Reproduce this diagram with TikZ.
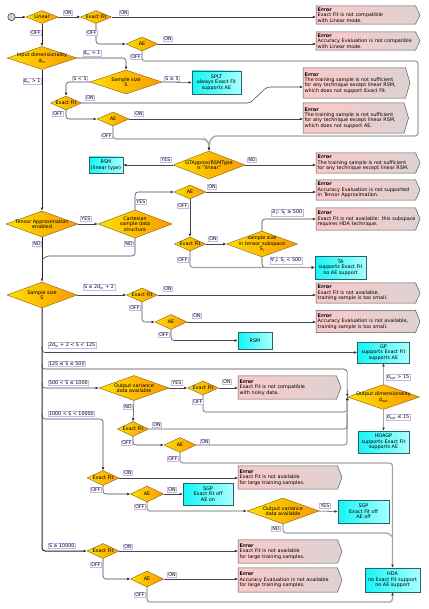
\documentclass[tikz,border=0pt]{standalone}
\usepackage{fontspec}
\setmainfont{DejaVu Sans}
\usetikzlibrary{shapes.geometric,arrows.meta,calc,backgrounds}

\definecolor{lncol}{RGB}{70,70,70}
\definecolor{glncol}{RGB}{165,165,165}
\definecolor{diaedge}{RGB}{130,95,20}
\definecolor{diaL}{RGB}{255,222,0}
\definecolor{diaR}{RGB}{250,155,0}
\definecolor{cyL}{RGB}{20,245,245}
\definecolor{cyR}{RGB}{170,255,255}
\definecolor{cyedge}{RGB}{40,100,110}
\definecolor{erL}{RGB}{250,200,200}
\definecolor{erR}{RGB}{222,210,210}
\definecolor{eredge}{RGB}{90,90,90}
\definecolor{lbedge}{RGB}{200,180,240}
\definecolor{startc}{RGB}{200,210,230}

\tikzset{
 dia/.style={diamond, draw=diaedge, line width=0.4pt, left color=diaL, right color=diaR, inner sep=0pt},
 dtxt/.style={font=\fontsize{4.9}{5.4}\selectfont, align=center, inner sep=0pt},
 cbox/.style={rectangle, draw=cyedge, line width=0.5pt, left color=cyL, right color=cyR, font=\fontsize{4.9}{5.4}\selectfont, align=center, inner sep=0pt},
 etxt/.style={rectangle, anchor=west, inner xsep=1.5pt, inner ysep=0pt, font=\fontsize{4.9}{5.4}\selectfont, align=left, text width=110pt},
 eshape/.style={draw=eredge, line width=0.5pt, left color=erL, right color=erR},
 lab/.style={rectangle, draw=lbedge, fill=white, line width=0.5pt, font=\fontsize{4.8}{5.4}\selectfont, inner xsep=0.8pt, inner ysep=0.7pt},
 ln/.style={draw=lncol, line width=0.55pt, rounded corners=3pt},
 gln/.style={draw=glncol, line width=1.3pt, rounded corners=3pt},
 trunk/.style={draw=black!85, line width=1pt, rounded corners=3pt},
 arr/.style={-{Latex[length=3.2pt,width=2.8pt,color=black!80]}},
}

\newcommand\DiaN[6]{%
 \node[dia,minimum width=#4pt,minimum height=#5pt] (#1) at (#2,#3) {};
 \node[dtxt] (#1t) at (#1) {#6};}

\newcommand\ErrN[6]{%
 \node[etxt, minimum height=#5pt] (#1) at (#2,#3) {\textbf{Error}\\#6};
 \begin{scope}[on background layer]
 \shade[eshape] (#1.north west) -- ($(#1.north west)+(#4,0)$) -- ($(#1.west)+(#4+4.5,0)$) -- ($(#1.south west)+(#4,0)$) -- (#1.south west) -- cycle;
 \end{scope}}

\begin{document}
\begin{tikzpicture}[x=1pt,y=-1pt]
\begin{scope}[on background layer]
\fill[white] (0,0) rectangle (428,609);
\end{scope}
\useasboundingbox (0,0) rectangle (428,609);

% start
\node[circle, draw=black!80, fill=startc, minimum size=7.4pt, inner sep=0pt, line width=0.5pt] (start) at (11.5,17) {};

% diamonds
\DiaN{lin}{42}{17}{32}{13}{Linear}
\DiaN{ef1}{96}{17}{31}{13}{Exact Fit}
\DiaN{ae1}{142}{44}{32}{14}{AE}
\DiaN{indim}{42}{58}{70}{23}{Input dimensionality\\d\textsubscript{in}}
\DiaN{ss1}{126}{82}{72}{24}{Sample size\\S}
\DiaN{ef2}{66}{103}{31}{14}{Exact Fit}
\DiaN{ae2}{113}{119}{32}{14}{AE}
\DiaN{gt}{209}{165}{72}{28}{GTApprox/RSMType\\is "linear"}
\DiaN{ae3}{190}{192}{32}{14}{AE}
\DiaN{tensor}{42}{224}{72}{26}{Tensor Approximation\\enabled}
\DiaN{cart}{135}{224}{74}{28}{Cartesian\\sample data\\structure}
\DiaN{ef3}{190}{244}{31}{14}{Exact Fit}
\DiaN{sub}{262}{244}{71}{26}{sample size\\in tensor subspace\\S\textsubscript{j}}
\DiaN{ss2}{42}{295}{70}{26}{Sample size\\S}
\DiaN{ef4}{142}{295}{31}{14}{Exact Fit}
\DiaN{ae4}{171}{322}{32}{15}{AE}
\DiaN{ov1}{134}{388}{70}{25}{Output variance\\data available}
\DiaN{ef5}{203}{388}{31}{14}{Exact Fit}
\DiaN{od}{383.5}{397}{72}{25}{Output dimensionality\\d\textsubscript{out}}
\DiaN{ef6}{133}{429}{31}{15}{Exact Fit}
\DiaN{ae5}{180}{445}{32}{15}{AE}
\DiaN{ef7}{103}{478}{32}{15}{Exact Fit}
\DiaN{ae6}{147}{494}{33}{16}{AE}
\DiaN{ov2}{283}{511}{72}{26}{Output variance\\data available}
\DiaN{ef8}{103}{551}{32}{15}{Exact Fit}
\DiaN{ae7}{147}{579}{33}{16}{AE}

% technique boxes
\node[cbox, minimum width=49pt, minimum height=23pt] (splt) at (216.5,82.5) {SPLT\\always Exact Fit\\supports AE};
\node[cbox, minimum width=34pt, minimum height=16pt] (rsml) at (106,165) {RSM\\(linear type)};
\node[cbox, minimum width=51pt, minimum height=23pt] (ta) at (340.5,267.5) {TA\\supports Exact Fit\\no AE support};
\node[cbox, minimum width=34pt, minimum height=17pt] (rsm) at (255,340.5) {RSM};
\node[cbox, minimum width=52pt, minimum height=21pt] (gp) at (383.5,352.5) {GP\\supports Exact Fit\\supports AE};
\node[cbox, minimum width=51pt, minimum height=22pt] (hdagp) at (383.5,442) {HDAGP\\supports Exact Fit\\supports AE};
\node[cbox, minimum width=50pt, minimum height=22pt] (sgp1) at (208,494) {SGP\\Exact Fit off\\AE on};
\node[cbox, minimum width=51pt, minimum height=23pt] (sgp2) at (363.5,511.5) {SGP\\Exact Fit off\\AE off};
\node[cbox, minimum width=55pt, minimum height=24pt] (hda) at (392.5,580) {HDA\\no Exact Fit support\\no AE support};

% error boxes
\ErrN{e1}{316}{15}{99.5}{18}{Exact Fit is not compatible\\with Linear mode.}
\ErrN{e2}{316}{41}{99.5}{18}{Accuracy Evaluation is not compatible\\with Linear mode.}
\ErrN{e3}{303}{83}{102.5}{30}{The training sample is not sufficient\\for any technique except linear RSM,\\which does not support Exact Fit.}
\ErrN{e4}{303}{118}{101}{30}{The training sample is not sufficient\\for any technique except linear RSM,\\which does not support AE.}
\ErrN{e5}{316}{163}{99.5}{20}{The training sample is not sufficient\\for any technique except linear RSM.}
\ErrN{e6}{316}{190}{99.5}{20}{Accuracy Evaluation is not supported\\in Tensor Approximation.}
\ErrN{e7}{316}{219}{99.5}{22}{Exact Fit is not available: this subspace\\requires HDA technique.}
\ErrN{e8}{316}{293}{99.5}{20}{Exact Fit is not available,\\training sample is too small.}
\ErrN{e9}{316}{321.5}{99.5}{22}{Accuracy Evaluation is not available,\\training sample is too small.}
\ErrN{e10}{238}{387.5}{98.5}{23}{Exact Fit is not compatible\\with noisy data.}
\ErrN{e11}{238}{477.5}{99.5}{23}{Exact Fit is not available\\for large training samples.}
\ErrN{e12}{238}{551.5}{99.5}{23}{Exact Fit is not available\\for large training samples.}
\ErrN{e13}{238}{580}{99.5}{24}{Accuracy Evaluation is not available\\for large training samples.}

% helper coordinates
\coordinate (k3) at (267,87);
\coordinate (b1) at (42,347);
\coordinate (b2) at (42,364);
\coordinate (b3) at (42,383);
\coordinate (b4) at (42,414);

% connectors
\draw[ln,arr] (start.east) -- (lin.west);
\draw[ln,arr] (lin.east) -- (ef1.west);
\draw[trunk,arr] (lin.south) -- (indim.north);
\draw[ln,arr] (ef1.east) -- (e1.west |- ef1.east);
\draw[ln,arr] (ef1.south) |- (ae1.west);
\draw[ln,arr] (ae1.east) -- (e2.west |- ae1.east);
\draw[gln,arr] (ae1.south) -- (142,61) -- (418,61) -- (418,136) -- (213,136) -- (209,143) -- (gt.north);
\draw[trunk,arr] (indim.south) -- (tensor.north);
\draw[ln,arr] (indim.east) -| (ss1.north);
\draw[ln,arr] (ss1.east) -- (splt.west);
\draw[ln,arr] (ss1.west) -| (ef2.north);
\draw[ln,arr] (ef2.east) -- (250,103) -- (k3) -- (k3 -| e3.west);
\draw[ln,arr] (ef2.south) |- (ae2.west);
\draw[ln,arr] (ae2.east) -- (e4.west |- ae2.east);
\draw[gln,arr] (ae2.south) -- (113,139) -- (205,139) -- (209,143) -- (gt.north);
\draw[ln,arr] (gt.west) -- (rsml.east);
\draw[ln,arr] (gt.east) -- (e5.west |- gt.east);
\draw[ln,arr] (tensor.east) -- (cart.west);
\draw[ln,arr] (cart.north) |- (ae3.west);
\draw[ln,arr] (ae3.east) -- (e6.west |- ae3.east);
\draw[ln,arr] (ae3.south) -- (ef3.north);
\draw[ln,arr] (ef3.east) -- (sub.west);
\draw[ln,arr] (sub.north) |- (e7.west);
\draw[ln,arr] (sub.south) |- (ta.west);
\draw[gln,arr] (ef3.south) |- (ta.west);
\draw[trunk,arr] (tensor.south) -- (ss2.north);
\draw[ln] (cart.south) |- (46,256) -- (42,260);
\draw[ln,arr] (ss2.east) -- (ef4.west);
\draw[ln,arr] (ef4.east) -- (e8.west |- ef4.east);
\draw[ln,arr] (ef4.south) |- (ae4.west);
\draw[ln,arr] (ae4.east) -- (e9.west |- ae4.east);
\draw[ln,arr] (ae4.south) |- (rsm.west);
\draw[trunk,arr] (ss2.south) |- (ef8.west);
\draw[ln,arr] (b1) |- (gp.west);
\draw[ln,arr] (b2) |- (347,369) -- (od.west);
\draw[ln,arr] (b3) |- (ov1.west);
\draw[ln,arr] (b4) |- (103,419) -- (ef7.north);
\draw[ln,arr] (ov1.east) -- (ef5.west);
\draw[ln,arr] (ef5.east) -- (e10.west |- ef5.east);
\draw[gln,arr] (ef5.south) |- (347,412) -- (od.west);
\draw[ln,arr] (ov1.south) -- (ef6.north);
\draw[gln,arr] (ef6.east) -- (347,429) -- (od.west);
\draw[ln,arr] (ef6.south) |- (ae5.west);
\draw[gln,arr] (ae5.east) -- (347,445) -- (od.west);
\draw[gln,arr] (ae5.south) |- (392.5,463) -- (hda.north);
\draw[gln,arr] (od.north) -- (gp.south);
\draw[gln,arr] (od.south) -- (hdagp.north);
\draw[ln,arr] (ef7.east) -- (e11.west |- ef7.east);
\draw[ln,arr] (ef7.south) |- (ae6.west);
\draw[ln,arr] (ae6.east) -- (sgp1.west);
\draw[gln,arr] (ae6.south) |- (ov2.west);
\draw[ln,arr] (ov2.east) -- (sgp2.west);
\draw[gln] (ov2.south) |- (388.5,533) -- (392.5,537);
\draw[ln,arr] (ef8.east) -- (e12.west |- ef8.east);
\draw[ln,arr] (ef8.south) |- (ae7.west);
\draw[ln,arr] (ae7.east) -- (e13.west |- ae7.east);
\draw[gln,arr] (ae7.south) |- (392.5,602) -- (hda.south);

% labels
\node[lab] (lb1) at (68,13) {ON};
\node[lab] (lb2) at (36,33) {OFF};
\node[lab] (lb3) at (124,13) {ON};
\node[lab] (lb4) at (92,33) {OFF};
\node[lab] (lb5) at (168,39) {ON};
\node[lab] (lb6) at (136,57) {OFF};
\node[lab] (lb7) at (92,53) {d\textsubscript{in} = 1};
\node[lab] (lb8) at (32,81) {d\textsubscript{in} > 1};
\node[lab] (lb9) at (80,79) {S < 5};
\node[lab] (lb10) at (172,79) {S ≥ 5};
\node[lab] (lb11) at (90,98) {ON};
\node[lab] (lb12) at (58,114) {OFF};
\node[lab] (lb13) at (139,114) {ON};
\node[lab] (lb14) at (107,136) {OFF};
\node[lab] (lb15) at (166,160) {YES};
\node[lab] (lb16) at (252,160) {NO};
\node[lab] (lb17) at (212,187) {ON};
\node[lab] (lb18) at (141,202) {YES};
\node[lab] (lb19) at (183,206) {OFF};
\node[lab] (lb20) at (86,219) {YES};
\node[lab] (lb21) at (213,239) {ON};
\node[lab] (lb22) at (287,213) {∃ j: S\textsubscript{j} ≥ 500};
\node[lab] (lb23) at (37,244) {NO};
\node[lab] (lb24) at (129,244) {NO};
\node[lab] (lb25) at (183,260) {OFF};
\node[lab] (lb26) at (286,261) {∀ j: S\textsubscript{j} < 500};
\node[lab] (lb27) at (99,287) {S ≤ 2d\textsubscript{in} + 2};
\node[lab] (lb28) at (168,289) {ON};
\node[lab] (lb29) at (135,308) {OFF};
\node[lab] (lb30) at (197,316) {ON};
\node[lab] (lb31) at (164,335) {OFF};
\node[lab, anchor=west] (lb32) at (48,345) {2d\textsubscript{in} + 2 < S < 125};
\node[lab, anchor=west] (lb33) at (48,364) {125 ≤ S ≤ 500};
\node[lab] (lb34) at (398,377) {d\textsubscript{out} > 15};
\node[lab, anchor=west] (lb35) at (48,383) {500 < S ≤ 1000};
\node[lab] (lb36) at (177,383) {YES};
\node[lab] (lb37) at (227,382) {ON};
\node[lab] (lb38) at (198,402) {OFF};
\node[lab] (lb39) at (128,407) {NO};
\node[lab, anchor=west] (lb40) at (48,414) {1000 < S < 10000};
\node[lab] (lb41) at (398,417) {d\textsubscript{out} ≤ 15};
\node[lab] (lb42) at (157,425) {ON};
\node[lab] (lb43) at (127,443) {OFF};
\node[lab] (lb44) at (205,442) {ON};
\node[lab] (lb45) at (173,459) {OFF};
\node[lab] (lb46) at (128,473) {ON};
\node[lab] (lb47) at (96,490) {OFF};
\node[lab] (lb48) at (172,490) {ON};
\node[lab] (lb49) at (325,506) {YES};
\node[lab] (lb50) at (140,507) {OFF};
\node[lab] (lb51) at (276,529) {NO};
\node[lab, anchor=west] (lb52) at (48,546) {S ≥ 10000};
\node[lab] (lb53) at (128,547) {ON};
\node[lab] (lb54) at (96,565) {OFF};
\node[lab] (lb55) at (172,575) {ON};
\node[lab] (lb56) at (140,595) {OFF};
\end{tikzpicture}
\end{document}
